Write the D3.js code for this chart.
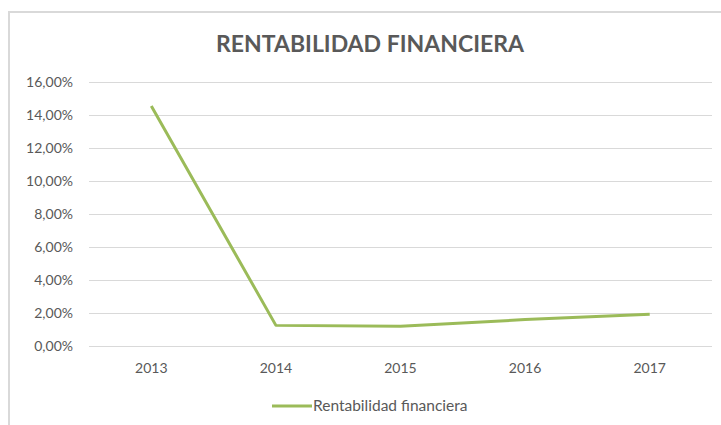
<!DOCTYPE html>
<html>
<head>
<meta charset="utf-8">
<script src="https://cdn.jsdelivr.net/npm/d3@7"></script>
<style>
  body { margin: 0; background: #fff; }
  text { font-family: Lato, "Open Sans", sans-serif; fill: #595959; }
</style>
</head>
<body>
<script>
var years = ["2013", "2014", "2015", "2016", "2017"];
var rentabilidad = [14.55, 1.25, 1.19, 1.6, 1.92];
var yTicks = [0, 2, 4, 6, 8, 10, 12, 14, 16];
var title = "RENTABILIDAD FINANCIERA";
var seriesName = "Rentabilidad financiera";

var width = 721,
    height = 425;
var plotLeft = 89, plotRight = 712, plotTop = 82, plotBottom = 346;

var svg = d3.select("body").append("svg")
  .attr("width", width)
  .attr("height", height);

// chart frame (cropped at right and bottom)
svg.append("path")
  .attr("d", "M9," + height + "V12H" + width)
  .attr("fill", "none")
  .attr("stroke", "#d9d9d9")
  .attr("stroke-width", 2);

var x = d3.scaleBand().domain(years).range([plotLeft, plotRight]);
var y = d3.scaleLinear().domain([0, 16]).range([plotBottom, plotTop]);

// grid
svg.append("g")
  .selectAll("line")
  .data(yTicks)
  .enter().append("line")
  .attr("x1", plotLeft)
  .attr("x2", plotRight)
  .attr("y1", function(d) { return Math.round(y(d)) + 0.5; })
  .attr("y2", function(d) { return Math.round(y(d)) + 0.5; })
  .attr("stroke", "#d9d9d9")
  .attr("stroke-width", 1);

// y labels
svg.append("g")
  .selectAll("text")
  .data(yTicks)
  .enter().append("text")
  .attr("x", 73)
  .attr("y", function(d) { return y(d); })
  .attr("dy", "0.36em")
  .attr("text-anchor", "end")
  .style("font-size", "14px")
  .text(function(d) { return d3.format(".2f")(d).replace(".", ",") + "%"; });

// x labels
svg.append("g")
  .selectAll("text")
  .data(years)
  .enter().append("text")
  .attr("x", function(d) { return x(d) + x.bandwidth() / 2; })
  .attr("y", 373)
  .attr("text-anchor", "middle")
  .style("font-size", "14px")
  .text(function(d) { return d; });

// line
var line = d3.line()
  .x(function(d, i) { return x(years[i]) + x.bandwidth() / 2; })
  .y(function(d) { return y(d); });

svg.append("path")
  .datum(rentabilidad)
  .attr("d", line)
  .attr("fill", "none")
  .attr("stroke", "#9bbb59")
  .attr("stroke-width", 3)
  .attr("stroke-linejoin", "round");

// title
svg.append("text")
  .attr("x", 370)
  .attr("y", 52)
  .attr("text-anchor", "middle")
  .style("font-size", "23px")
  .style("font-weight", "bold")
  .text(title);

// legend
svg.append("line")
  .attr("x1", 272)
  .attr("x2", 312)
  .attr("y1", 406)
  .attr("y2", 406)
  .attr("stroke", "#9bbb59")
  .attr("stroke-width", 3);

svg.append("text")
  .attr("x", 313)
  .attr("y", 411)
  .style("font-size", "15.5px")
  .text(seriesName);
</script>
</body>
</html>
